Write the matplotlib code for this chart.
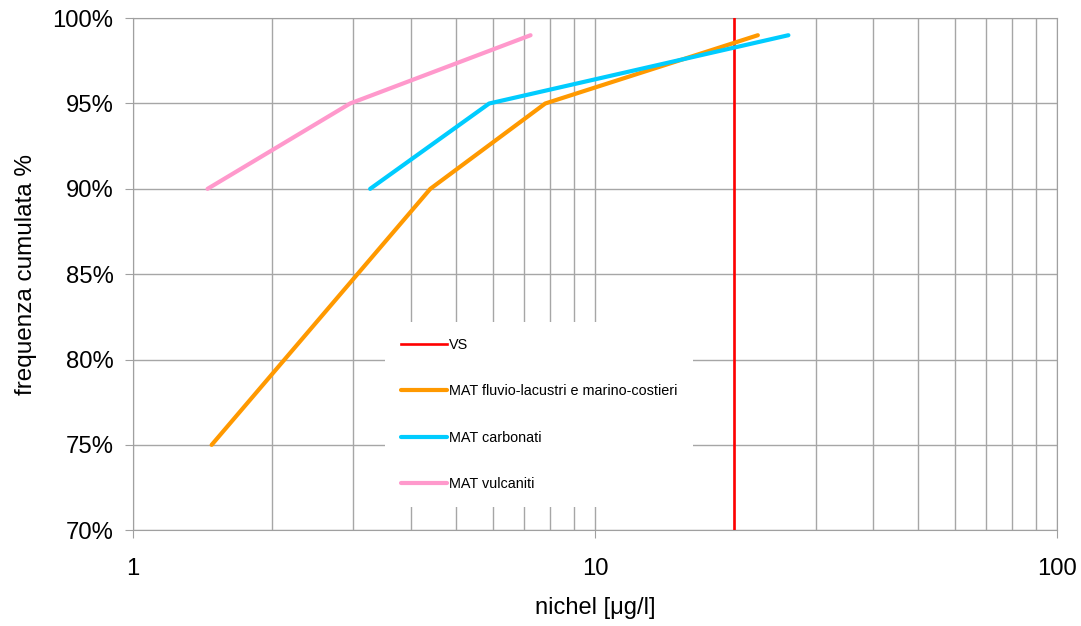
import matplotlib
matplotlib.use("Agg")
import matplotlib.pyplot as plt
from matplotlib.ticker import FixedLocator, FuncFormatter, LogLocator, NullFormatter

plt.rcParams['font.family'] = ['Liberation Sans', 'DejaVu Sans']

vs_x = 20
fluvio_x = [1.48, 4.4, 7.8, 22.5]
fluvio_y = [75, 90, 95, 99]
carbonati_x = [3.26, 5.9, 26.2]
carbonati_y = [90, 95, 99]
vulcaniti_x = [1.45, 2.95, 7.25]
vulcaniti_y = [90, 95, 99]
y_ticks = [70, 75, 80, 85, 90, 95, 100]
x_ticks = [1, 10, 100]

fig = plt.figure(figsize=(10.81, 6.26), dpi=100)
ax = fig.add_axes([0.123, 0.153, 0.855, 0.818])

ax.set_xscale('log')
ax.set_xlim(1, 100)
ax.set_ylim(70, 100)

ax.axvline(vs_x, color='#ff0000', lw=1.9, label='VS', zorder=3)
ax.plot(fluvio_x, fluvio_y, color='#ff9900', lw=3, label='MAT fluvio-lacustri e marino-costieri', zorder=3, solid_capstyle='round')
ax.plot(carbonati_x, carbonati_y, color='#00ccff', lw=3, label='MAT carbonati', zorder=3, solid_capstyle='round')
ax.plot(vulcaniti_x, vulcaniti_y, color='#ff99cc', lw=3, label='MAT vulcaniti', zorder=3, solid_capstyle='round')

ax.xaxis.set_major_locator(FixedLocator(x_ticks))
ax.xaxis.set_minor_locator(LogLocator(base=10, subs=range(2, 10)))
ax.xaxis.set_major_formatter(FuncFormatter(lambda v, p: f"{v:g}"))
ax.xaxis.set_minor_formatter(NullFormatter())
ax.yaxis.set_major_locator(FixedLocator(y_ticks))
ax.yaxis.set_major_formatter(FuncFormatter(lambda v, p: f"{v:.0f}%"))

ax.grid(True, which='both', axis='x', color='#a6a6a6', lw=1)
ax.grid(True, which='major', axis='y', color='#a6a6a6', lw=1)
ax.set_axisbelow(True)
for s in ax.spines.values():
    s.set_color('#a0a0a0')
ax.tick_params(axis='both', which='major', length=6, color='#a0a0a0', labelsize=17.2, pad=8)
ax.tick_params(axis='x', which='major', pad=14)
ax.tick_params(axis='x', which='minor', length=0)

ax.set_xlabel('nichel [\u03bcg/l]', fontsize=17, labelpad=12)
ax.set_ylabel('frequenza cumulata %', fontsize=17.5, labelpad=11)

leg = ax.legend(loc='upper left', bbox_to_anchor=(0.273, 0.406), borderaxespad=0,
                frameon=True, fontsize=10.4, handlelength=3.2, handletextpad=0.12,
                labelspacing=2.23, borderpad=1.1, fancybox=False)
leg.get_frame().set_edgecolor('none')
leg.get_frame().set_facecolor('white')
leg.get_frame().set_alpha(1)
leg.set_zorder(5)

fig.savefig('out.png', dpi=100)
